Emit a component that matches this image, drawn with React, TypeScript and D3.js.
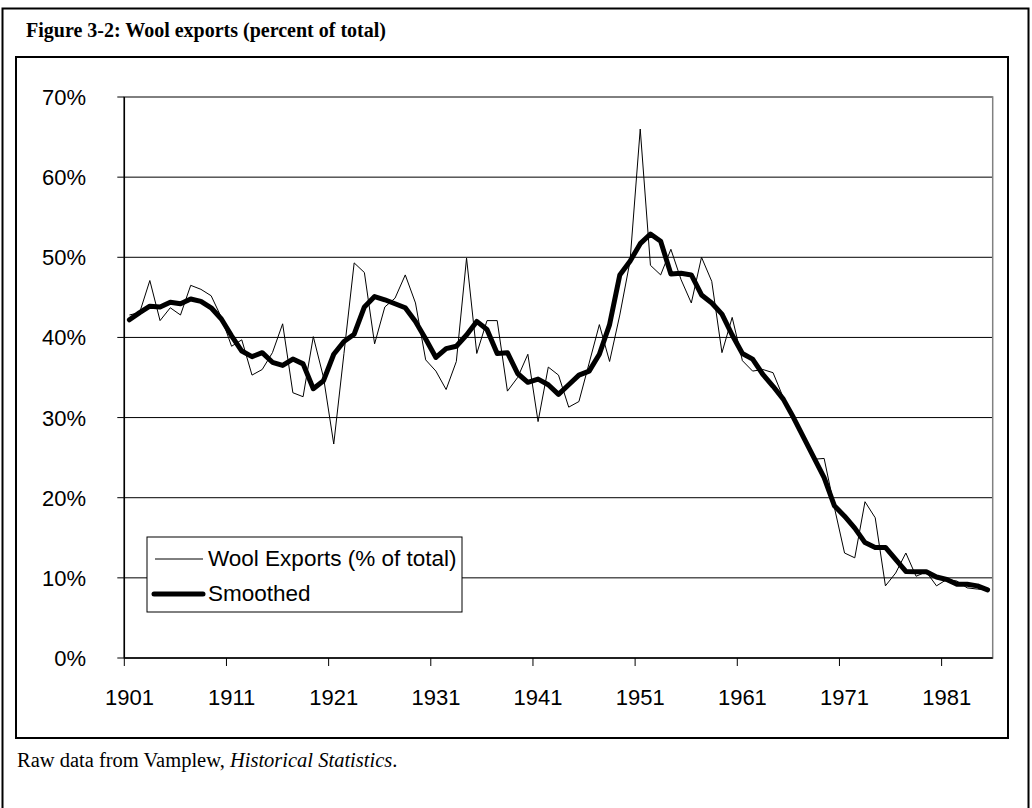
import React from "react";
import * as d3 from "d3";

const years: number[] = Array.from({ length: 85 }, (_, i) => 1901 + i);

const rawValues: number[] = [
  42.8, 43.1, 47.1, 42.1, 43.7, 42.8, 46.5, 46.0, 45.2, 42.5,
  38.9, 39.7, 35.3, 36.0, 38.1, 41.7, 33.1, 32.6, 40.1, 35.0,
  26.7, 38.0, 49.3, 48.1, 39.2, 43.8, 44.9, 47.8, 44.3, 37.2,
  35.8, 33.5, 37.0, 49.9, 38.0, 42.1, 42.1, 33.3, 35.0, 37.9,
  29.5, 36.3, 35.3, 31.3, 32.0, 36.8, 41.6, 37.0, 42.8, 49.5,
  66.0, 49.0, 47.8, 51.0, 47.2, 44.3, 50.0, 47.0, 38.1, 42.5,
  37.1, 35.8, 36.0, 35.6, 32.5, 30.2, 27.8, 24.8, 24.9, 18.8,
  13.1, 12.5, 19.5, 17.5, 9.0, 10.6, 13.1, 10.2, 10.75, 9.0,
  9.8, 9.6, 8.75, 8.6, 8.5,
];

const smoothedValues: number[] = [
  42.2, 43.1, 43.9, 43.8, 44.4, 44.2, 44.8, 44.5, 43.7, 42.3,
  40.2, 38.3, 37.6, 38.1, 36.9, 36.5, 37.3, 36.7, 33.6, 34.6,
  37.9, 39.5, 40.4, 43.8, 45.1, 44.7, 44.2, 43.7, 42.0, 39.8,
  37.5, 38.6, 38.9, 40.3, 42.0, 41.0, 38.0, 38.1, 35.5, 34.4,
  34.8, 34.1, 32.9, 34.1, 35.3, 35.8, 37.9, 41.6, 47.8, 49.5,
  51.7, 52.9, 52.0, 47.9, 48.0, 47.8, 45.3, 44.3, 42.9, 40.3,
  38.0, 37.3, 35.4, 33.9, 32.3, 30.0, 27.5, 25.0, 22.5, 19.0,
  17.7, 16.2, 14.4, 13.8, 13.8, 12.3, 10.8, 10.75, 10.75, 10.1,
  9.8, 9.2, 9.2, 9.0, 8.5,
];

const yTicks: number[] = [0, 10, 20, 30, 40, 50, 60, 70];
const xLabelYears: number[] = [1901, 1911, 1921, 1931, 1941, 1951, 1961, 1971, 1981];

const titleText = "Figure 3-2: Wool exports (percent of total)";
const rawLabel = "Wool Exports (% of total)";
const smoothLabel = "Smoothed";

export default function App() {
  const left = 124.3;
  const right = 992.7;
  const top = 97;
  const bottom = 658;

  const x = d3.scaleBand<number>().domain(years).range([left, right]).padding(0);
  const bw = x.bandwidth();
  const cx = (yr: number) => (x(yr) as number) + bw / 2;
  const y = d3.scaleLinear().domain([0, 70]).range([bottom, top]);

  const line = d3
    .line<number>()
    .x((_, i) => cx(years[i]))
    .y((d) => y(d));

  const rawPath = line(rawValues) || "";
  const smoothPath = line(smoothedValues) || "";

  const tickBoundaries = years.filter((_, i) => i % 10 === 0).map((yr) => x(yr) as number);

  const sans = "'Liberation Sans', Arial, sans-serif";
  const serif = "'Liberation Serif', 'Times New Roman', serif";

  return (
    <svg
      width={1032}
      height={808}
      style={{ position: "absolute", left: 0, top: 0, background: "#fff" }}
    >
      <rect x={0} y={0} width={1032} height={808} fill="#fff" />
      {/* outer frame */}
      <rect x={2.5} y={8.5} width={1026} height={830} fill="none" stroke="#000" strokeWidth={2} />
      <text x={26} y={37} fontFamily={serif} fontWeight="bold" fontSize={20} fill="#000">
        {titleText}
      </text>
      {/* chart frame */}
      <rect x={16} y={57} width={992} height={681} fill="none" stroke="#000" strokeWidth={2} />

      {/* gridlines */}
      {yTicks.map((t) => (
        <line key={"g" + t} x1={left} x2={right} y1={y(t)} y2={y(t)} stroke="#000" strokeWidth={1} />
      ))}
      {/* plot area border */}
      <rect x={left} y={top} width={right - left} height={bottom - top} fill="none" stroke="#808080" strokeWidth={1.5} />

      {/* y axis */}
      <line x1={left} x2={left} y1={top} y2={bottom} stroke="#000" strokeWidth={1.5} />
      {yTicks.map((t) => (
        <g key={"yt" + t}>
          <line x1={left - 7} x2={left} y1={y(t)} y2={y(t)} stroke="#000" strokeWidth={1} />
          <text x={86} y={y(t) + 8} textAnchor="end" fontFamily={sans} fontSize={22} fill="#000">
            {t + "%"}
          </text>
        </g>
      ))}

      {/* x axis */}
      <line x1={left} x2={right} y1={bottom} y2={bottom} stroke="#000" strokeWidth={1.5} />
      {tickBoundaries.map((tx, i) => (
        <line key={"xt" + i} x1={tx} x2={tx} y1={bottom} y2={bottom + 8} stroke="#000" strokeWidth={1} />
      ))}
      {xLabelYears.map((yr) => (
        <text key={"xl" + yr} x={cx(yr)} y={705} textAnchor="middle" fontFamily={sans} fontSize={22} fill="#000">
          {String(yr)}
        </text>
      ))}

      {/* series */}
      <path d={rawPath} fill="none" stroke="#000" strokeWidth={1} strokeLinejoin="round" />
      <path d={smoothPath} fill="none" stroke="#000" strokeWidth={5} strokeLinejoin="round" strokeLinecap="round" />

      {/* legend */}
      <rect x={147} y={537} width={315} height={75} fill="#fff" stroke="#000" strokeWidth={1} />
      <line x1={155} x2={203} y1={559} y2={559} stroke="#000" strokeWidth={1} />
      <text x={208} y={566} fontFamily={sans} fontSize={22.5} fill="#000">
        {rawLabel}
      </text>
      <line x1={154} x2={203} y1={594} y2={594} stroke="#000" strokeWidth={5} strokeLinecap="round" />
      <text x={208} y={601} fontFamily={sans} fontSize={22.5} fill="#000">
        {smoothLabel}
      </text>

      {/* footnote */}
      <text x={17} y={767} fontFamily={serif} fontSize={20.5} fill="#000">
        Raw data from Vamplew, <tspan fontStyle="italic">Historical Statistics</tspan>.
      </text>
    </svg>
  );
}
